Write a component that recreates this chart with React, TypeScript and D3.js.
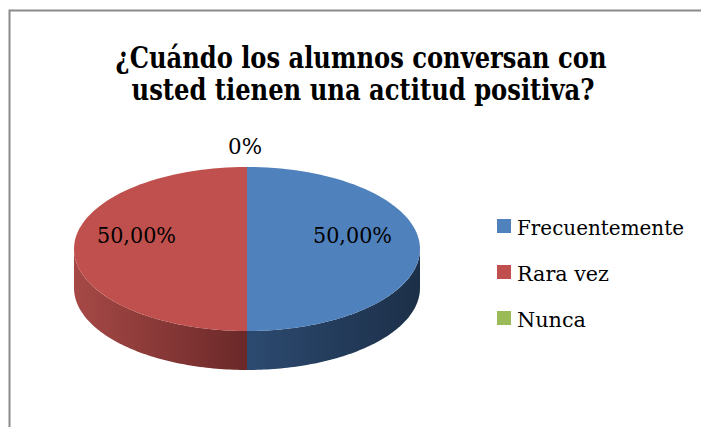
import React from "react";
import * as d3 from "d3";

const categories = ["Frecuentemente", "Rara vez", "Nunca"];
const values = [50, 50, 0];
const labels = ["50,00%", "50,00%", "0%"];
const colors = ["#4F81BD", "#C0504D", "#9BBB59"];
const titleLines = ["¿Cuándo los alumnos conversan con", "usted tienen una actitud positiva?"];

const titleWidths = [491, 463];
const labelWidths = [79, 79, 34];
const legendWidths = [167, 92, 69];

const W = 701;
const H = 427;
const cx = 247;
const cy = 249;
const rx = 173;
const ry = 82;
const depth = 39;
const SERIF = '"DejaVu Serif", serif';
const SERIF_C = '"DejaVu Serif Condensed", "DejaVu Serif", serif';

function pt(a: number, dy = 0): [number, number] {
  return [cx + rx * Math.sin(a), cy - ry * Math.cos(a) + dy];
}

function topPath(a0: number, a1: number) {
  const n = 80;
  const p = d3.path();
  p.moveTo(cx, cy);
  for (let i = 0; i <= n; i++) {
    const a = a0 + ((a1 - a0) * i) / n;
    const [x, y] = pt(a);
    p.lineTo(x, y);
  }
  p.closePath();
  return p.toString();
}

function sidePath(a0: number, a1: number) {
  const s = Math.max(a0, Math.PI / 2);
  const e = Math.min(a1, (3 * Math.PI) / 2);
  if (e <= s) return null;
  const n = 80;
  const p = d3.path();
  const [x0, y0] = pt(s);
  p.moveTo(x0, y0);
  for (let i = 1; i <= n; i++) {
    const a = s + ((e - s) * i) / n;
    const [x, y] = pt(a);
    p.lineTo(x, y);
  }
  for (let i = n; i >= 0; i--) {
    const a = s + ((e - s) * i) / n;
    const [x, y] = pt(a, depth);
    p.lineTo(x, y);
  }
  p.closePath();
  return p.toString();
}

export default function App() {
  const pie = d3.pie<number>().sort(null).value((d) => d)(values);
  const sideGrad = [
    { from: "#2C4A70", to: "#1C2F48" },
    { from: "#A64946", to: "#6A2828" },
    { from: "#7A9446", to: "#5A6E33" },
  ];
  const labelPos: [number, number][] = [
    [352.5, 243],
    [136.5, 243],
    [245, 154],
  ];
  return (
    <svg
      width={W}
      height={H}
      style={{ position: "absolute", left: 0, top: 0, background: "#fff" }}
    >
      <defs>
        {sideGrad.map((g, i) => (
          <linearGradient key={i} id={`g${i}`} x1="0" x2="1" y1="0" y2="0">
            <stop offset="0" stopColor={g.from} />
            <stop offset="1" stopColor={g.to} />
          </linearGradient>
        ))}
      </defs>
      <rect x={9.5} y={10.5} width={720} height={440} fill="#fff" stroke="#8A8A8A" strokeWidth={2} />
      {titleLines.map((t, i) => (
        <text
          key={i}
          x={361 + i * 2}
          y={68 + i * 32}
          textAnchor="middle"
          style={{ fontFamily: SERIF_C }}
          fontWeight="bold"
          fontSize={29}
          textLength={titleWidths[i]}
          lengthAdjust="spacingAndGlyphs"
          fill="#000"
        >
          {t}
        </text>
      ))}
      {pie.map((s, i) => {
        const d = sidePath(s.startAngle, s.endAngle);
        return d ? <path key={"s" + i} d={d} fill={`url(#g${i})`} /> : null;
      })}
      {pie.map((s, i) =>
        s.endAngle > s.startAngle ? (
          <path key={"t" + i} d={topPath(s.startAngle, s.endAngle)} fill={colors[i]} />
        ) : null
      )}
      {labels.map((l, i) => (
        <text
          key={"l" + i}
          x={labelPos[i][0]}
          y={labelPos[i][1]}
          textAnchor="middle"
          style={{ fontFamily: SERIF }}
          fontSize={22}
          textLength={labelWidths[i]}
          lengthAdjust="spacingAndGlyphs"
          fill="#000"
        >
          {l}
        </text>
      ))}
      {categories.map((c, i) => (
        <g key={"lg" + i} transform={`translate(497,${219 + i * 46})`}>
          <rect x={0} y={0} width={14} height={14} fill={colors[i]} />
          <text
            x={20}
            y={16}
            style={{ fontFamily: SERIF }}
            fontSize={21}
            textLength={legendWidths[i]}
            lengthAdjust="spacingAndGlyphs"
            fill="#000"
          >
            {c}
          </text>
        </g>
      ))}
    </svg>
  );
}
